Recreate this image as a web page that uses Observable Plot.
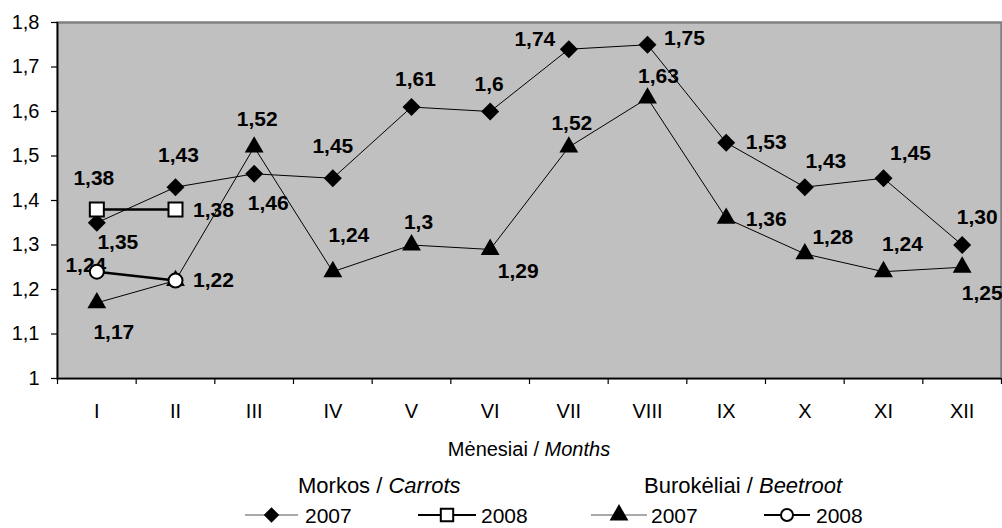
<!DOCTYPE html>
<html>
<head>
<meta charset="utf-8">
<script src="https://cdn.jsdelivr.net/npm/d3@7"></script>
<script src="https://cdn.jsdelivr.net/npm/@observablehq/plot@0.6"></script>
<style>
  html, body { margin: 0; padding: 0; background: #fff; }
  body { width: 1002px; height: 528px; overflow: hidden; font-family: "Liberation Sans", Arial, sans-serif; }
  #chart svg { display: block; }
</style>
</head>
<body>
<div id="chart"></div>
<script>
// ---------- data ----------
const months = ["I","II","III","IV","V","VI","VII","VIII","IX","X","XI","XII"];
const carrots2007 = [1.35, 1.43, 1.46, 1.45, 1.61, 1.60, 1.74, 1.75, 1.53, 1.43, 1.45, 1.30];
const carrots2007Labels = ["1,35","1,43","1,46","1,45","1,61","1,6","1,74","1,75","1,53","1,43","1,45","1,30"];
const carrots2008 = [1.38, 1.38];
const carrots2008Labels = ["1,38","1,38"];
const beet2007 = [1.17, 1.22, 1.52, 1.24, 1.30, 1.29, 1.52, 1.63, 1.36, 1.28, 1.24, 1.25];
const beet2007Labels = ["1,17","","1,52","1,24","1,3","1,29","1,52","1,63","1,36","1,28","1,24","1,25"];
const beet2008 = [1.24, 1.22];
const beet2008Labels = ["1,24","1,22"];
const yTicks = [1, 1.1, 1.2, 1.3, 1.4, 1.5, 1.6, 1.7, 1.8];
const yTickLabels = ["1","1,1","1,2","1,3","1,4","1,5","1,6","1,7","1,8"];
const xTitle = ["Mėnesiai / ", "Months"];
const seriesGroups = [["Morkos / ", "Carrots"], ["Burokėliai / ", "Beetroot"]];
const legendYears = ["2007", "2008", "2007", "2008"];

// ---------- label placement (pixel offsets from each point) ----------
const offC07 = [[21,20],[3,-32],[14,29],[0,-32],[4,-28],[-1,-27],[-34,-10],[37,-6],[40,0],[21,-26],[27,-25],[15,-28]];
const offC08 = [[-3,-31],[38,1]];
const offB07 = [[17,29],[0,0],[3,-28],[16,-36],[7,-23],[28,22],[3,-24],[11,-22],[40,1],[28,-17],[19,-27],[20,26]];
const offB08 = [[-11,-6],[38,0]];

const rows = (vals, labels, offs) => vals.map((v, i) => ({m: i + 1, v, label: labels[i], dx: offs[i][0], dy: offs[i][1]}));
const c07 = rows(carrots2007, carrots2007Labels, offC07);
const c08 = rows(carrots2008, carrots2008Labels, offC08);
const b07 = rows(beet2007, beet2007Labels, offB07);
const b08 = rows(beet2008, beet2008Labels, offB08);

const labelMarks = (data) => data.filter(d => d.label).map(d =>
  Plot.text([d], {x: "m", y: "v", text: "label", dx: d.dx, dy: d.dy,
    fontWeight: "bold", fontSize: 21, fill: "#000"}));

const chart = Plot.plot({
  width: 1002,
  height: 430,
  marginLeft: 57,
  marginRight: 1,
  marginTop: 22,
  marginBottom: 52,
  x: {type: "linear", domain: [0.5, 12.5], axis: null},
  y: {domain: [1, 1.8], axis: null},
  style: {fontFamily: "'Liberation Sans', Arial, sans-serif", fontSize: "20px", color: "#000", background: "#fff"},
  marks: [
    Plot.frame({fill: "#c0c0c0", stroke: "#808080", strokeWidth: 2.5}),
    Plot.axisY(yTicks, {tickSize: 6, tickPadding: 12, tickFormat: (d) => yTickLabels[yTicks.indexOf(d)], label: null, fontSize: 20, strokeWidth: 1.2}),
    Plot.axisX(months.map((_, i) => i + 1), {tickSize: 0, tickPadding: 25, tickFormat: d => months[d - 1], label: null, fontSize: 20}),
    Plot.axisX(d3.range(months.length + 1).map(i => i + 0.5), {tickSize: 6, tickFormat: () => "", label: null, strokeWidth: 1.2}),
    Plot.ruleX([0.5], {stroke: "#000", strokeWidth: 1.6}),
    Plot.ruleY([1], {stroke: "#000", strokeWidth: 1.6}),
    Plot.line(c07, {x: "m", y: "v", stroke: "#000", strokeWidth: 1}),
    Plot.line(b07, {x: "m", y: "v", stroke: "#000", strokeWidth: 1}),
    Plot.line(c08, {x: "m", y: "v", stroke: "#000", strokeWidth: 2.5}),
    Plot.line(b08, {x: "m", y: "v", stroke: "#000", strokeWidth: 2.5}),
    ...labelMarks(c07),
    ...labelMarks(b07),
    ...labelMarks(c08),
    ...labelMarks(b08),
    Plot.dot(c07, {x: "m", y: "v", symbol: "diamond2", r: 8.1, fill: "#000"}),
    Plot.dot(b07, {x: "m", y: "v", symbol: "triangle", r: 7, fill: "#000"}),
    Plot.dot(c08, {x: "m", y: "v", symbol: "square", r: 7.9, fill: "#fff", stroke: "#000", strokeWidth: 2}),
    Plot.dot(b08, {x: "m", y: "v", symbol: "circle", r: 7, fill: "#fff", stroke: "#000", strokeWidth: 2})
  ]
});
document.getElementById("chart").appendChild(chart);

// ---------- axis title + legend (below the plot SVG) ----------
const leg = d3.select("#chart").append("svg")
  .attr("width", 1002).attr("height", 98)
  .style("font-family", "'Liberation Sans', Arial, sans-serif")
  .style("display", "block");

function mixedText(g, x, y, parts, size, anchor) {
  const t = g.append("text").attr("x", x).attr("y", y + size * 0.36)
    .attr("font-size", size).attr("text-anchor", anchor).attr("fill", "#000");
  t.append("tspan").text(parts[0]);
  t.append("tspan").attr("font-style", "italic").text(parts[1]);
}
mixedText(leg, 529, 19, xTitle, 20, "middle");
mixedText(leg, 298, 55, seriesGroups[0], 22, "start");
mixedText(leg, 644, 55, seriesGroups[1], 22, "start");

const items = [
  {x0: 245, x1: 298, sym: d3.symbolDiamond2, r: 7, fill: "#000", sw: 1, lc: "#555", tx: 305},
  {x0: 418, x1: 476, sym: d3.symbolSquare, r: 7, fill: "#fff", sw: 2, lc: "#000", tx: 481},
  {x0: 591, x1: 647, sym: d3.symbolTriangle, r: 7, fill: "#000", sw: 1, lc: "#555", tx: 651},
  {x0: 764, x1: 810, sym: d3.symbolCircle, r: 6, fill: "#fff", sw: 2, lc: "#000", tx: 816}
];
const ly = 85;
const lfs = 21;
items.forEach((it, i) => {
  leg.append("line").attr("x1", it.x0).attr("x2", it.x1).attr("y1", ly).attr("y2", ly)
    .attr("stroke", it.lc).attr("stroke-width", it.sw);
  leg.append("path").attr("transform", `translate(${(it.x0 + it.x1) / 2},${ly})`)
    .attr("d", d3.symbol(it.sym, Math.PI * it.r * it.r)())
    .attr("fill", it.fill).attr("stroke", "#000").attr("stroke-width", it.fill === "#fff" ? 2 : 0);
  leg.append("text").attr("x", it.tx).attr("y", ly + lfs * 0.36).attr("font-size", lfs)
    .attr("fill", "#000").text(legendYears[i]);
});
</script>
</body>
</html>
